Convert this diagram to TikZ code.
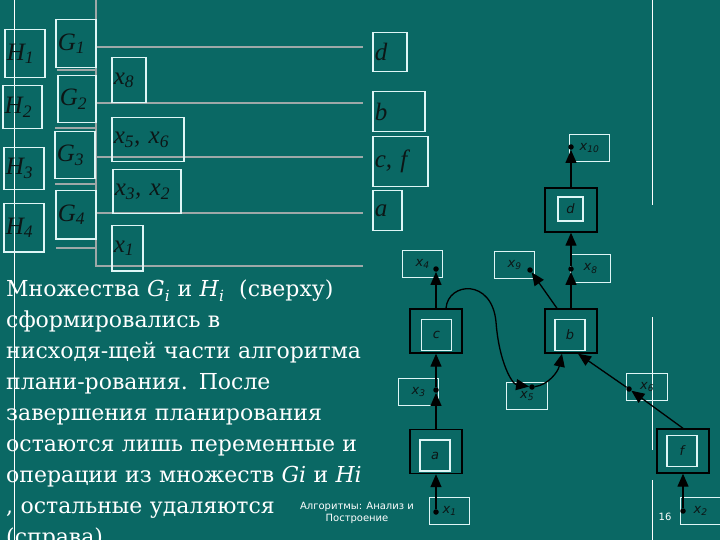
\documentclass[tikz,border=0pt]{standalone}
\usepackage{fontspec}
\setmainfont{DejaVu Serif}
\newfontfamily\timesf{Liberation Serif}
\newfontfamily\dejavu{DejaVu Sans}
\usetikzlibrary{arrows.meta}

\definecolor{slidebg}{RGB}{10,104,100}
\definecolor{boxline}{RGB}{222,246,246}
\definecolor{rulegray}{RGB}{158,168,168}
\definecolor{ink}{RGB}{12,22,22}

\tikzset{
  lbox/.style={draw=boxline, line width=1.5pt, text=ink, inner sep=2pt, align=left,
    anchor=north west, font=\fontsize{25}{27}\selectfont\timesf\itshape},
  vbox/.style={draw=boxline, line width=1.2pt, text=ink, inner sep=0pt, anchor=north west,
    minimum height=27pt, font=\fontsize{13}{13}\selectfont\dejavu\itshape},
  opbox/.style={draw=black, line width=1.4pt, minimum width=52pt, minimum height=44pt, inner sep=0pt},
  opin/.style={draw=boxline, line width=1.2pt, text=ink, minimum width=30pt, minimum height=31pt,
    inner sep=0pt, font=\fontsize{13}{13}\selectfont\dejavu\itshape},
  vdot/.style={circle, fill=black, inner sep=0pt, minimum size=5.5pt},
  arr/.style={line width=1.3pt, -{Triangle[length=13pt,width=11pt]}},
  rule/.style={rulegray, line width=2pt},
  note/.style={text=white, inner sep=0pt, anchor=north west, align=left, text width=430pt,
    font=\fontsize{22}{31}\selectfont},
  foot/.style={text=white, inner sep=0pt, align=center, font=\fontsize{10}{12}\selectfont\dejavu},
}

\begin{document}
\begin{tikzpicture}[x=1pt,y=-1pt]
\useasboundingbox (0,0) rectangle (720,540);
\fill[slidebg] (0,0) rectangle (720,540);

% white guide lines
\draw[white, line width=1pt] (14,0) -- (14,540);
\draw[white, line width=1pt] (652,0) -- (652,205);
\draw[white, line width=1pt] (652,317) -- (652,450);
\draw[white, line width=1pt] (652,480) -- (652,540);

% gray rules
\draw[rule] (96,0) -- (96,267);
\foreach \yy in {47,103,157,213,266}{
  \draw[rule] (96,\yy) -- (363,\yy);
}
\draw[rule] (57,70) -- (96,70);
\draw[rule] (55,128) -- (96,128);
\draw[rule] (55,184) -- (96,184);
\draw[rule] (56,248) -- (96,248);

% sets H and G
\node[lbox, text width=36pt, minimum height=48pt] (H1) at (4,29) {H\textsubscript{1}};
\node[lbox, text width=35pt, minimum height=43pt] (H2) at (2,85) {H\textsubscript{2}};
\node[lbox, text width=36pt, minimum height=42pt] (H3) at (3,147) {H\textsubscript{3}};
\node[lbox, text width=36pt, minimum height=48pt] (H4) at (3,203) {H\textsubscript{4}};
\node[lbox, text width=36pt, minimum height=48pt] (G1) at (55,19) {G\textsubscript{1}};
\node[lbox, text width=34pt, minimum height=47pt] (G2) at (57,75) {G\textsubscript{2}};
\node[lbox, text width=36pt, minimum height=47pt] (G3) at (54,131) {G\textsubscript{3}};
\node[lbox, text width=36pt, minimum height=48pt] (G4) at (55,190) {G\textsubscript{4}};

% variables
\node[lbox, text width=30pt, minimum height=45pt] (s8) at (111,57) {x\textsubscript{8}};
\node[lbox, text width=68pt, minimum height=44pt] (s56) at (111,117) {x\textsubscript{5}, x\textsubscript{6}};
\node[lbox, text width=64pt, minimum height=44pt] (s32) at (112,169) {x\textsubscript{3}, x\textsubscript{2}};
\node[lbox, text width=27pt, minimum height=45pt] (s1) at (111,225) {x\textsubscript{1}};

% operations
\node[lbox, text width=30pt, minimum height=39pt] (rd) at (372,32) {d};
\node[lbox, text width=48pt, minimum height=40pt] (rb) at (372,91) {b};
\node[lbox, text width=51pt, minimum height=50pt] (rcf) at (372,136) {c, f};
\node[lbox, text width=25pt, minimum height=40pt] (ra) at (372,190) {a};

% text
\node[note] (txt) at (6,280) {Множества \textit{G}\textsubscript{\textit{i}} и \textit{H}\textsubscript{\textit{i}} \ (сверху)\\
сформировались в\\
нисходя-щей части алгоритма\\
плани-рования. После\\
завершения планирования\\
остаются лишь переменные и\\
операции из множеств \textit{Gi} и \textit{Hi}\\
, остальные удаляются\\
(справа).};

\node[foot] (ft) at (357,513) {Алгоритмы: Анализ и\\Построение};
\node[foot] (pg) at (665,517) {16};

% plan graph
\node[opbox] (opa) at (436,451.5) {};
\node[opin] (ina) at (435,455.5) {a};
\node[opbox] (opc) at (436,331) {};
\node[opin] (inc) at (436.5,335) {c};
\node[opbox] (opb) at (571,331) {};
\node[opin] (inb) at (570,335) {b};
\node[opbox] (opd) at (571,210) {};
\node[opin, minimum width=25pt, minimum height=24pt] (ind) at (570.5,209) {d};
\node[opbox] (opf) at (683,451) {};
\node[opin] (inf) at (682,451) {f};

\node[vbox, minimum width=40pt] (v10) at (569,134) {x\textsubscript{10}};
\node[vbox, minimum width=40pt] (v4) at (402,250) {x\textsubscript{4}};
\node[vbox, minimum width=40pt] (v9) at (494,251) {x\textsubscript{9}};
\node[vbox, minimum width=40pt, minimum height=28pt] (v8) at (570,254) {x\textsubscript{8}};
\node[vbox, minimum width=40pt] (v3) at (398,378) {x\textsubscript{3}};
\node[vbox, minimum width=41pt] (v5) at (506,382) {x\textsubscript{5}};
\node[vbox, minimum width=41pt] (v6) at (626,373) {x\textsubscript{6}};
\node[vbox, minimum width=40pt] (v1) at (429,497) {x\textsubscript{1}};
\node[vbox, minimum width=40pt] (v2) at (680,497) {x\textsubscript{2}};

\node[vdot] (p10) at (571,147) {};
\node[vdot] (p4) at (436,269) {};
\node[vdot] (p9) at (530,270) {};
\node[vdot] (p8) at (571,269) {};
\node[vdot] (p3) at (436,390) {};
\node[vdot] (p5) at (532,387) {};
\node[vdot] (p6) at (629,389) {};
\node[vdot] (p1) at (436,512) {};
\node[vdot] (p2) at (683,511) {};

\draw[arr] (p1) -- (opa.south);
\draw[arr] (opa.north) -- (p3);
\draw[arr] (p3) -- (opc.south);
\draw[arr] (opc.north) -- (p4);
\draw[arr] ([xshift=10pt]opc.north) .. controls (448,282) and (492,278) .. (496,322)
  .. controls (499,362) and (512,384) .. (p5);
\draw[arr] (p5) .. controls (548,385) and (558,372) .. ([xshift=-9pt]opb.south);
\draw[arr] ([xshift=-14pt]opb.north) -- (p9);
\draw[arr] (opb.north) -- (p8);
\draw[arr] (p8) -- (opd.south);
\draw[arr] (opd.north) -- (p10);
\draw[arr] (opf.north) -- (p6);
\draw[arr] (p6) -- ([xshift=7pt]opb.south);
\draw[arr] (p2) -- (opf.south);
\end{tikzpicture}
\end{document}
